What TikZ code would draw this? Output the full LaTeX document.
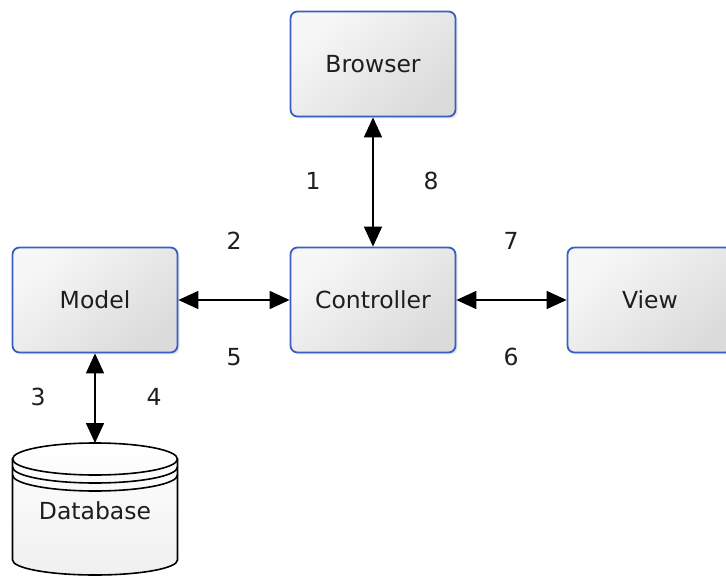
\documentclass[tikz,border=0pt]{standalone}
\usepackage{fontspec}
\setmainfont{DejaVu Sans}
\usetikzlibrary{arrows.meta,shadows}
\definecolor{boxblue}{HTML}{3A5FC4}
\definecolor{txt}{HTML}{1E1E1E}
\tikzset{
  mvcbox/.style={draw=boxblue, line width=1.8pt, rounded corners=7pt,
    minimum width=165pt, minimum height=105pt, inner sep=0pt,
    top color=white!97!black, bottom color=white!86!black, shading angle=40,
    drop shadow={opacity=0.2, shadow xshift=2pt, shadow yshift=-2pt},
    font=\fontsize{23.5}{27}\selectfont, text=txt},
  link/.style={line width=1.6pt, {Triangle[length=20pt,width=18pt]}-{Triangle[length=20pt,width=18pt]}},
  num/.style={font=\fontsize{23.5}{27}\selectfont, text=txt, inner sep=0pt},
  dbline/.style={line width=1.6pt}
}
\begin{document}
\begin{tikzpicture}[x=1pt,y=-1pt]
\useasboundingbox (0,0) rectangle (726,577);
\begin{scope}
\clip (0,0) rectangle (726,577);
\node[mvcbox] (browser) at (373,64) {Browser};
\node[mvcbox] (controller) at (373,300) {Controller};
\node[mvcbox] (model) at (95,300) {Model};
\node[mvcbox] (view) at (650,300) {View};

% database cylinder
\coordinate (dbtop) at (95,443);
\fill[top color=white, bottom color=white!94!black]
  (12.5,459) -- (12.5,560) arc[start angle=180, end angle=360, x radius=82.5, y radius=-15]
  -- (177.5,459) arc[start angle=0, end angle=180, x radius=82.5, y radius=-16] -- cycle;
\draw[dbline]
  (12.5,459) -- (12.5,560) arc[start angle=180, end angle=360, x radius=82.5, y radius=-15]
  -- (177.5,459);
\draw[dbline] (95,459) ellipse[x radius=82.5, y radius=16];
\draw[dbline] (12.5,467) arc[start angle=180, end angle=360, x radius=82.5, y radius=-16];
\draw[dbline] (12.5,475) arc[start angle=180, end angle=360, x radius=82.5, y radius=-16];
\node[num] (database) at (95,511) {Database};
\end{scope}

\draw[link] (browser) -- (controller);
\draw[link] (model) -- (controller);
\draw[link] (controller) -- (view);
\draw[link] (model) -- (dbtop);

\node[num] (n1) at (313,181) {1};
\node[num] (n8) at (431,181) {8};
\node[num] (n2) at (234,241) {2};
\node[num] (n7) at (511,241) {7};
\node[num] (n5) at (234,357) {5};
\node[num] (n6) at (511,357) {6};
\node[num] (n3) at (38,397) {3};
\node[num] (n4) at (154,397) {4};
\end{tikzpicture}
\end{document}
